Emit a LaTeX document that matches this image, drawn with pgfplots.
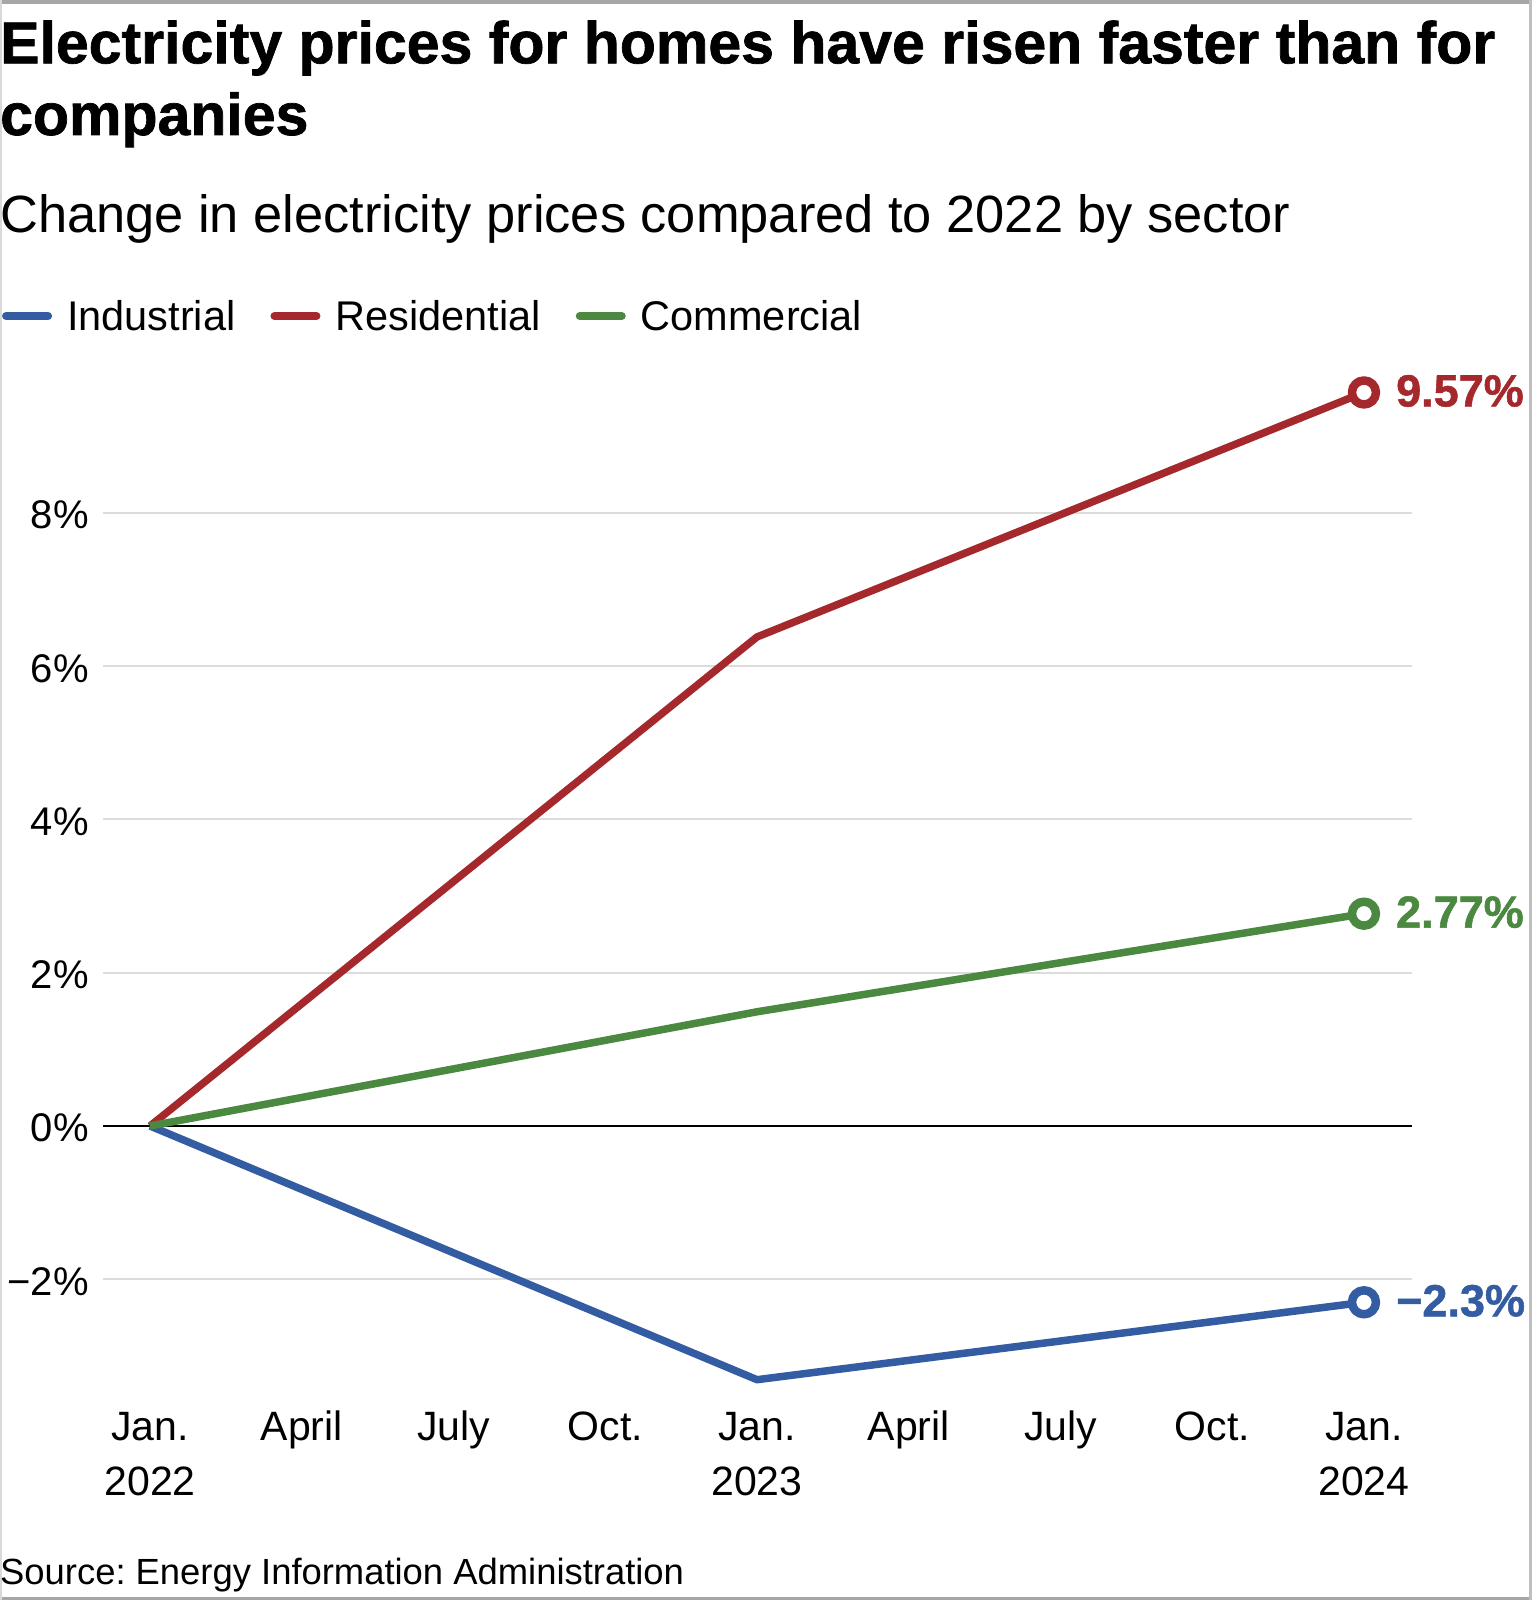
\documentclass[border=0pt]{standalone}
\usepackage{fontspec}
\setmainfont{Liberation Sans}[BoldFeatures={FakeBold=1.2}]
\usepackage{pgfplots}
\pgfplotsset{compat=1.18}
\definecolor{ired}{RGB}{165,40,45}
\definecolor{iblue}{RGB}{52,92,162}
\definecolor{igreen}{RGB}{74,137,63}
\definecolor{gridgray}{RGB}{220,220,220}
\frenchspacing
\begin{document}
\begin{tikzpicture}[x=1pt,y=1pt]
\path[use as bounding box] (0,0) rectangle (1532,1600);
\fill[gray!70] (0,1596) rectangle (1532,1600);
\fill[gray!70] (0,0) rectangle (1532,3);
\fill[gray!30] (0,0) rectangle (2,1600);
\fill[gray!50] (1529,0) rectangle (1532,1600);
\node[anchor=base west, inner sep=0pt, font=\fontsize{59}{70}\bfseries\selectfont] at (0,1536.7) {Electricity prices for homes have risen faster than for};
\node[anchor=base west, inner sep=0pt, font=\fontsize{59}{70}\bfseries\selectfont] at (0,1465) {companies};
\node[anchor=base west, inner sep=0pt, font=\fontsize{52.4}{62}\selectfont] at (0,1367) {Change in electricity prices compared to 2022 by sector};
\node[anchor=base west, inner sep=0pt, font=\fontsize{36.4}{45}\selectfont] at (0,15) {Source: Energy Information Administration};
\begin{axis}[
  at={(103pt,201.9pt)}, anchor=south west,
  scale only axis, width=1309pt, height=1038.6pt,
  xmin=-0.93, xmax=24.95, ymin=-3.55, ymax=10,
  clip=false,
  axis line style={draw=none},
  tick style={draw=none},
  major tick length=0pt,
  /pgf/number format/assume math mode=true,
  xtick={0,3,6,9,12,15,18,21,24},
  xticklabels={Jan.\\2022,April\\\mbox{},July\\\mbox{},Oct.\\\mbox{},Jan.\\2023,April\\\mbox{},July\\\mbox{},Oct.\\\mbox{},Jan.\\2024},
  xticklabel style={align=center, anchor=base, inner sep=0pt, yshift=-96.9pt, font=\fontsize{41}{54.5}\selectfont},
  ytick={-2,2,4,6,8},
  yticklabels={−2\%,2\%,4\%,6\%,8\%},
  extra y ticks={0},
  extra y tick labels={0\%},
  extra y tick style={grid style={black, line width=2pt}},
  yticklabel style={anchor=base east, inner sep=0pt, xshift=-14pt, yshift=-16pt, font=\fontsize{40}{48}\selectfont},
  ymajorgrids,
  grid style={gridgray, line width=2.2pt},
  legend columns=-1,
  legend cell align=left,
  legend image code/.code={\draw[#1, line width=8pt, line cap=round] (0pt,0pt) -- (42pt,0pt);},
  legend style={at={(axis description cs:-0.0771,1.0418)}, anchor=west, draw=none, fill=none,
    inner sep=0pt, outer sep=0pt, font=\fontsize{41.5}{50}\selectfont,
    nodes={inner sep=0pt},
    /tikz/every odd column/.append style={column sep=15pt},
    /tikz/every even column/.append style={column sep=35pt}},
  every axis plot/.append style={line width=7.5pt, line join=round, mark=*, mark indices={3}, mark size=12pt,
    mark options={fill=white, line width=8.5pt, solid}},
]
\addplot[iblue] coordinates {(0,0) (12,-3.31) (24,-2.30)};
\addlegendentry{Industrial}
\addplot[ired] coordinates {(0,0) (12,6.38) (24,9.57)};
\addlegendentry{Residential}
\addplot[igreen] coordinates {(0,0) (12,1.49) (24,2.77)};
\addlegendentry{Commercial}
\node[anchor=base west, inner sep=0pt, xshift=32pt, yshift=-14pt, text=ired, font=\fontsize{45}{50}\bfseries\selectfont] at (axis cs:24,9.57) {9.57\%};
\node[anchor=base west, inner sep=0pt, xshift=32pt, yshift=-14pt, text=igreen, font=\fontsize{45}{50}\bfseries\selectfont] at (axis cs:24,2.77) {2.77\%};
\node[anchor=base west, inner sep=0pt, xshift=32pt, yshift=-14pt, text=iblue, font=\fontsize{45}{50}\bfseries\selectfont] at (axis cs:24,-2.30) {−2.3\%};
\end{axis}
\end{tikzpicture}
\end{document}
